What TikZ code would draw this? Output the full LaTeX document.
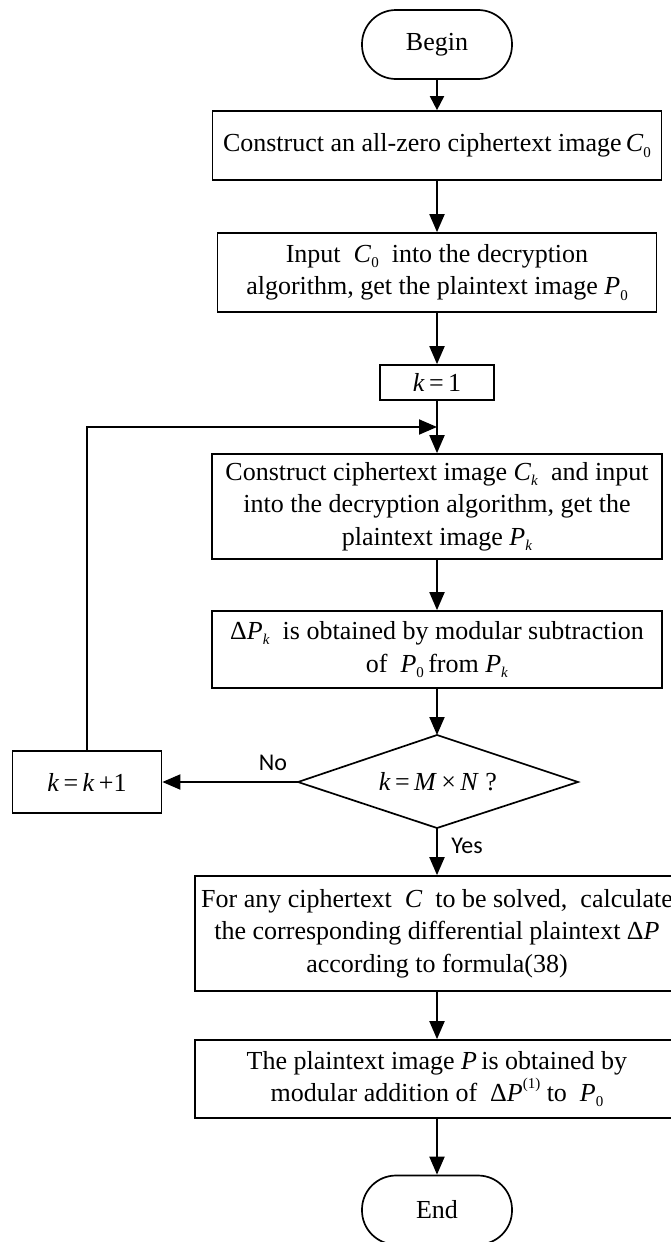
\documentclass[tikz,border=0pt]{standalone}
\usepackage{fontspec}
\setmainfont{Liberation Serif}
\newfontfamily\labelfont{Carlito}
\usetikzlibrary{arrows.meta}
\newcommand{\vi}[1]{\textit{#1}}
\newcommand{\sbs}[1]{\raisebox{-0.45ex}{\fontsize{15}{15}\selectfont #1}}
\newcommand{\sps}[1]{\raisebox{1.1ex}{\fontsize{15}{15}\selectfont #1}}
\tikzset{
  box/.style={draw, line width=1.7pt, inner sep=0pt, align=center,
    font=\fontsize{26}{32.5}\selectfont},
  term/.style={box, rounded corners=34pt, minimum width=150pt, minimum height=69pt},
  arr/.style={line width=1.9pt, -{Triangle[length=18pt,width=15pt]}},
  arrsmall/.style={line width=1.9pt, -{Triangle[length=14pt,width=14pt]}},
  lbl/.style={font=\labelfont\fontsize{24}{28}\selectfont, inner sep=0pt}
}
\begin{document}
\begin{tikzpicture}[x=1pt,y=-1pt]
\useasboundingbox (0,0) rectangle (671,1242);
\node[term] (begin) at (437,44.5) {Begin};
\node[box, minimum width=449pt, minimum height=69pt] (b1) at (437,145.5)
  {Construct an all-zero ciphertext image\,\vi{C}\sbs{0}};
\node[box, minimum width=439pt, minimum height=79pt] (b2) at (437,272.5)
  {Input ~\vi{C}\sbs{0} ~into the decryption\\algorithm, get the plaintext image \vi{P}\sbs{0}};
\node[box, minimum width=114pt, minimum height=35pt] (k1) at (437,382.5)
  {\vi{k}\,=\,1};
\node[box, minimum width=450pt, minimum height=105pt] (b3) at (437,506.5)
  {Construct ciphertext image \vi{C}\sbs{\vi{k}} ~and input\\
   into the decryption algorithm, get the\\
   plaintext image \vi{P}\sbs{\vi{k}}};
\node[box, minimum width=450pt, minimum height=77pt] (b4) at (437,649.5)
  {Δ\vi{P}\sbs{\vi{k}} ~is obtained by modular subtraction\\
   of ~\vi{P}\sbs{0}\,from \vi{P}\sbs{\vi{k}}};
\path[draw, line width=1.7pt] (298,782) coordinate (dw) -- (437,735) coordinate (dn)
  -- (578,782) coordinate (de) -- (437,828) coordinate (ds) -- cycle;
\node[font=\fontsize{26}{32}\selectfont, inner sep=0pt] (dtext) at (438,782)
  {\vi{k}\,=\,\vi{M}\,\symbol{"00D7}\,\vi{N} ?};
\node[box, minimum width=149pt, minimum height=62pt] (kk) at (87,782)
  {\vi{k}\,=\,\vi{k}\,+1};
\node[box, minimum width=484pt, minimum height=115pt] (b5) at (437,933.5)
  {For any ciphertext ~\vi{C} ~to be solved, ~calculate\\
   the corresponding differential plaintext Δ\vi{P}\\
   according to formula(38)};
\node[box, minimum width=484pt, minimum height=78pt] (b6) at (437,1079)
  {The plaintext image \vi{P}\,is obtained by\\
   modular addition of ~Δ\vi{P}\sps{(1)} to ~\vi{P}\sbs{0}};
\node[term] (end) at (437,1210) {End};
\coordinate (fb) at (437,427);
\node[lbl] (no) at (273,763) {No};
\node[lbl] (yes) at (467,846) {Yes};
\draw[arrsmall] (begin) -- (b1);
\draw[arr] (b1) -- (b2);
\draw[arr] (b2) -- (k1);
\draw[arr] (k1) -- (b3);
\draw[arr] (b3) -- (b4);
\draw[arr] (b4.south) -- (dn);
\draw[arr] (dw) -- (kk.east);
\draw[arr] (kk.north) |- (fb);
\draw[arr] (ds) -- (b5.north);
\draw[arr] (b5) -- (b6);
\draw[arr] (b6) -- (end);
\end{tikzpicture}
\end{document}
